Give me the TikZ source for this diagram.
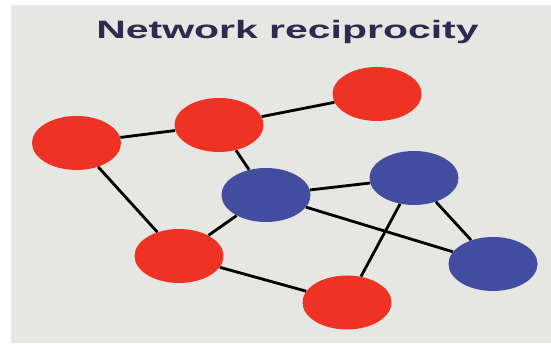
\documentclass[tikz,border=0pt]{standalone}
\usepackage{fontspec}
\setmainfont{Liberation Sans}
\usetikzlibrary{shapes.geometric}

\definecolor{netred}{RGB}{238,50,36}
\definecolor{netblue}{RGB}{67,77,160}
\definecolor{netgray}{RGB}{230,231,227}
\definecolor{titleblue}{RGB}{43,43,80}

\tikzset{
	player/.style={ellipse,minimum width=1.78cm,minimum height=1.08cm,inner sep=0pt},
	coop/.style={player,fill=netred},
	defect/.style={player,fill=netblue},
	link/.style={line width=1.6pt,black}
}

\begin{document}
\begin{tikzpicture}
	\useasboundingbox (0,0) rectangle (11.02,6.88);
	\fill[netgray] (0.22,0.02) rectangle (11.02,6.78);
	
	%title
	\node[text=titleblue,font=\bfseries\fontsize{14.3}{17}\selectfont,xscale=1.63,anchor=base] (title) at (5.75,6.10) {Network reciprocity};
	
	%players
	\node[coop]   (a) at (1.53,4.02) {};
	\node[coop]   (b) at (4.38,4.38) {};
	\node[coop]   (c) at (7.54,5.00) {};
	\node[defect] (d) at (5.32,2.98) {};
	\node[defect] (e) at (8.28,3.32) {};
	\node[coop]   (f) at (3.58,1.76) {};
	\node[coop]   (g) at (6.94,0.83) {};
	\node[defect] (h) at (9.86,1.60) {};
	
	%links
	\draw[link] (a)--(b);
	\draw[link] (b)--(c);
	\draw[link] (b)--(d);
	\draw[link] (a)--(f);
	\draw[link] (f)--(d);
	\draw[link] (d)--(e);
	\draw[link] (d)--(h);
	\draw[link] (e)--(h);
	\draw[link] (e)--(g);
	\draw[link] (f)--(g);
\end{tikzpicture}
\end{document}
